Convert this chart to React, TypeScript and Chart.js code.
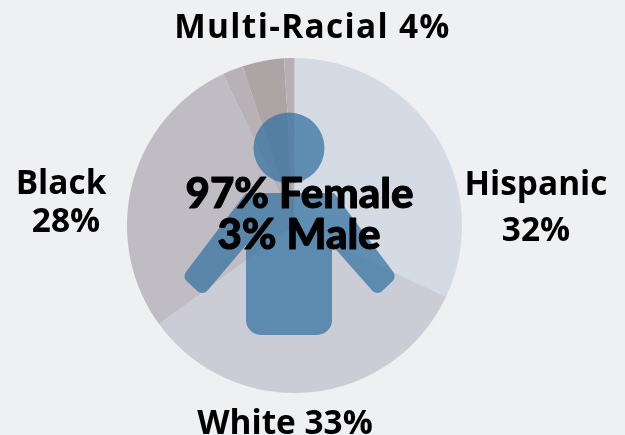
import React, { useEffect, useRef } from "react";
import { Chart, registerables } from "chart.js";

Chart.register(...registerables);

const categories = ["Hispanic", "White", "Black", "Other", "Multi-Racial", "Asian"];
const values = [32, 33, 28, 2, 4, 1];
const colors = ["#d5dbe5", "#cbccd5", "#c0bcc4", "#b8b1b6", "#ada4a6", "#b9b0b6"];
const labelFont = "700 33.4px 'Open Sans'";
const centerLines = ["97% Female", "3% Male"];

function rr(p: Path2D, pts: number[][], radii: number[]) {
  const n = pts.length;
  const a = pts[n - 1], b = pts[0];
  p.moveTo((a[0] + b[0]) / 2, (a[1] + b[1]) / 2);
  for (let i = 0; i < n; i++) {
    const c = pts[i], d = pts[(i + 1) % n];
    p.arcTo(c[0], c[1], d[0], d[1], radii[i]);
  }
  p.closePath();
}

const overlay = {
  id: "overlay",
  afterDraw(chart: any) {
    const ctx = chart.ctx as CanvasRenderingContext2D;
    ctx.save();
    const body = new Path2D();
    rr(body,
      [[246, 193], [334, 193], [397, 277], [377, 296], [332, 245], [332, 335], [246, 335], [246, 245], [203, 296], [182, 277]],
      [2, 2, 7, 7, 0.1, 15, 15, 0.1, 7, 7]);
    const head = new Path2D();
    head.arc(289, 148, 35.5, 0, Math.PI * 2);
    ctx.fillStyle = "rgba(56,116,161,0.75)";
    ctx.fill(body);
    ctx.fill(head);

    ctx.fillStyle = "#000";
    ctx.textAlign = "center";
    ctx.textBaseline = "alphabetic";
    ctx.font = labelFont;
    (ctx as any).letterSpacing = "1.3px";
    ctx.fillText("Multi-Racial 4%", 312.5, 38);
    (ctx as any).letterSpacing = "0px";
    ctx.fillText("Hispanic", 536, 195);
    ctx.fillText("32%", 536, 241);
    ctx.fillText("Black", 61, 194);
    ctx.fillText("28%", 66, 232);
    ctx.fillText("White 33%", 285, 434);

    ctx.font = "900 42px Lato";
    ctx.strokeStyle = "#000";
    ctx.lineWidth = 1;
    ctx.lineJoin = "round";
    ctx.strokeText(centerLines[0], 299.5, 208);
    ctx.strokeText(centerLines[1], 299, 249);
    ctx.fillText(centerLines[0], 299.5, 208);
    ctx.fillText(centerLines[1], 299, 249);
    ctx.restore();
  },
};

export default function App() {
  const ref = useRef<HTMLCanvasElement>(null);
  useEffect(() => {
    document.body.style.margin = "0";
    document.body.style.background = "#eff0f2";
    const chart = new Chart(ref.current!, {
      type: "pie",
      data: {
        labels: categories,
        datasets: [{ data: values, backgroundColor: colors, borderWidth: 0 }],
      },
      options: {
        responsive: false,
        animation: false,
        layout: { padding: { left: 127, right: 163, top: 58, bottom: 42 } },
        plugins: { legend: { display: false }, tooltip: { enabled: false } },
      },
      plugins: [overlay],
    });
    return () => chart.destroy();
  }, []);
  return <canvas ref={ref} width={625} height={435} style={{ display: "block" }} />;
}
